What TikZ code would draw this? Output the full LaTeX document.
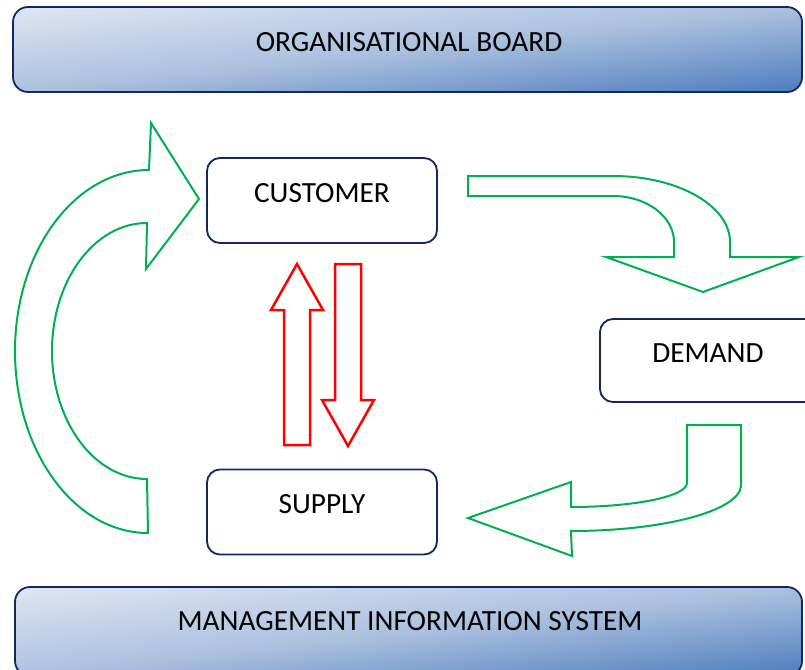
\documentclass[tikz,border=0pt]{standalone}
\usepackage{fontspec}
\setmainfont{Carlito}
\definecolor{navy}{RGB}{18,40,100}
\definecolor{gfill1}{RGB}{222,231,243}
\definecolor{gfillm}{RGB}{172,192,223}
\definecolor{gfill2}{RGB}{76,125,189}
\definecolor{arrgreen}{RGB}{0,176,80}
\definecolor{arrred}{RGB}{255,0,0}
\begin{document}
\begin{tikzpicture}[x=1pt,y=-1pt,
  bannerline/.style={draw=navy, line width=1.8pt, rounded corners=15pt},
  bannershade/.style={top color=gfill1, bottom color=gfill2, middle color=gfillm},
  box/.style={draw=navy, line width=1.8pt, rounded corners=13pt, fill=white, minimum width=230pt, minimum height=85pt, inner sep=0pt},
  lbl/.style={anchor=base, inner sep=0pt, font=\fontsize{29.3}{34}\selectfont},
  greenarrow/.style={draw=arrgreen, line width=2pt, fill=white, line join=miter},
  redarrow/.style={draw=arrred, line width=2.5pt, fill=white, line join=miter}]
\useasboundingbox (0,0) rectangle (805,669);
% top banner
\begin{scope}
  \clip[rounded corners=15pt] (13,7) rectangle (802,92);
  \shade[bannershade, transform canvas={shift={(407.5,49.5)}, rotate=6.15}] (-420,-84.5) rectangle (420,84.5);
\end{scope}
\path[bannerline] (13,7) rectangle (802,92);
% bottom banner
\begin{scope}
  \clip[rounded corners=15pt] (15,587) rectangle (802,676);
  \shade[bannershade, transform canvas={shift={(408.5,631.5)}, rotate=6.45}] (-420,-88.4) rectangle (420,88.4);
\end{scope}
\path[bannerline] (15,587) rectangle (802,676);
\node[lbl] (board) at (409,52) {ORGANISATIONAL BOARD};
\node[lbl] (mis) at (410,630) {MANAGEMENT INFORMATION SYSTEM};
% boxes
\node[box] (customer) at (322,200.5) {};
\node[box] (supply) at (322,512) {};
\node[box, minimum width=240pt, minimum height=83pt] (demand) at (720,360.5) {};
\node[lbl] (customertext) at (322,202) {CUSTOMER};
\node[lbl] (supplytext) at (322,513) {SUPPLY};
\node[lbl] (demandtext) at (708,362) {DEMAND};
% left curved arrow
\draw[greenarrow] (148,533) .. controls (74.5,533) and (15,451.5) .. (15,351)
  .. controls (15,251) and (75,170) .. (149,170)
  -- (151,123) -- (199,199) -- (146,269) -- (147,223)
  .. controls (94.5,223) and (52,280.3) .. (52,351)
  .. controls (52,421.7) and (94.5,479) .. (147,479) -- cycle;
% top right curved arrow
\draw[greenarrow] (468,176) -- (613,176)
  .. controls (677.6,176) and (730,205.5) .. (730,242)
  -- (730,257) -- (799,257) -- (703,292) -- (606,257) -- (674,257) -- (674,242)
  .. controls (674,216.6) and (646.7,196) .. (613,196)
  -- (468,196) -- cycle;
% bottom right curved arrow
\draw[greenarrow] (687,425) -- (741,425) -- (741,485)
  .. controls (741,510.4) and (664.9,531) .. (571,531)
  -- (572,556) -- (468,518) -- (571,482) -- (571,507)
  .. controls (635,507) and (687,496.3) .. (687,483) -- cycle;
% red arrows
\draw[redarrow] (284,445) -- (284,310) -- (271,310) -- (297,264) -- (323,310) -- (310,310) -- (310,445) -- cycle;
\draw[redarrow] (335,264) -- (361,264) -- (361,400) -- (374,400) -- (348,446) -- (322,400) -- (335,400) -- cycle;
\end{tikzpicture}
\end{document}
